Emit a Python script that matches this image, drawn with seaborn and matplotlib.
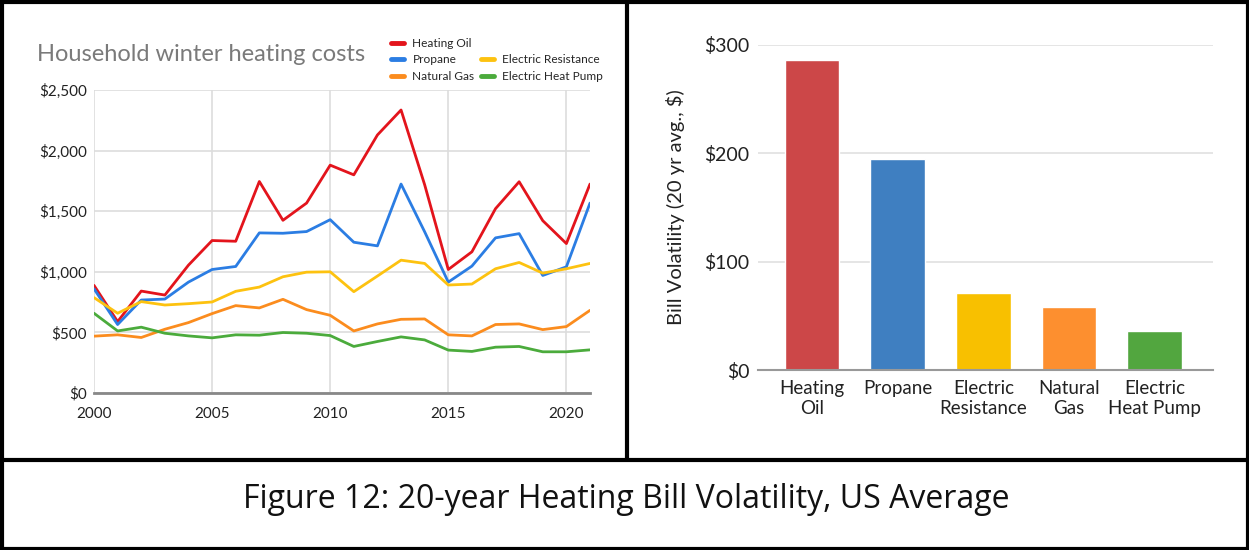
import numpy as np
import pandas as pd
import matplotlib.pyplot as plt
from matplotlib.lines import Line2D
import seaborn as sns


# Data
years = list(range(2000, 2022))
heating_oil = [888, 589, 841, 808, 1055, 1258, 1252, 1745, 1425, 1567, 1880, 1800,
               2129, 2335, 1718, 1019, 1165, 1521, 1743, 1422, 1233, 1724]
propane = [860, 565, 767, 775, 915, 1019, 1044, 1321, 1318, 1332, 1430, 1244,
           1214, 1724, 1330, 915, 1047, 1280, 1315, 970, 1041, 1567]
electric_resistance = [787, 658, 754, 726, 737, 751, 839, 874, 959, 997, 1000, 836,
                       965, 1096, 1069, 891, 899, 1025, 1077, 989, 1025, 1069]
natural_gas = [469, 480, 458, 526, 581, 655, 721, 702, 773, 688, 641, 512,
               570, 608, 611, 480, 471, 565, 570, 523, 548, 682]
heat_pump = [658, 512, 543, 493, 471, 455, 480, 477, 499, 493, 474, 384,
             425, 463, 438, 354, 343, 378, 384, 340, 340, 356]

fuels = ['Heating Oil', 'Propane', 'Natural Gas', 'Electric Resistance', 'Electric Heat Pump']
line_colors = ['#e3141c', '#2b7de3', '#fb8c1e', '#fdc210', '#4bab3c']

bar_labels = ['Heating\nOil', 'Propane', 'Electric\nResistance', 'Natural\nGas', 'Electric\nHeat Pump']
volatility = [286, 195, 71, 58, 36]
bar_colors = ['#cc4748', '#3f7fc1', '#f8c000', '#fd8f2f', '#52a63f']

series = {'Heating Oil': heating_oil, 'Propane': propane, 'Natural Gas': natural_gas,
          'Electric Resistance': electric_resistance, 'Electric Heat Pump': heat_pump}
df = pd.concat([pd.DataFrame({'year': years, 'cost': v, 'fuel': k}) for k, v in series.items()])
bars = pd.DataFrame({'fuel': bar_labels, 'vol': volatility})

sns.set_style('white')
plt.rcParams['font.family'] = ['Lato', 'DejaVu Sans']

W, H = 1249, 550
fig = plt.figure(figsize=(W / 100, H / 100), dpi=100)
fig.patch.set_facecolor('white')

# Left: household winter heating costs
ax1 = fig.add_axes([94 / W, 1 - 393 / H, (590 - 94) / W, (393 - 90) / H])
sns.lineplot(data=df, x='year', y='cost', hue='fuel', palette=dict(zip(fuels, line_colors)),
             linewidth=2, legend=False, ax=ax1)
ax1.set_xlim(2000, 2021)
ax1.set_ylim(0, 2500)
ax1.set_xticks([2000, 2005, 2010, 2015, 2020])
ax1.set_yticks([0, 500, 1000, 1500, 2000, 2500])
ax1.set_yticklabels(['$0', '$500', '$1,000', '$1,500', '$2,000', '$2,500'])
ax1.grid(True, color='#dddddd', linewidth=1.2)
for s in ['top', 'right', 'left']:
    ax1.spines[s].set_visible(False)
ax1.spines['bottom'].set_color('#888888')
ax1.spines['bottom'].set_linewidth(2)
ax1.tick_params(length=0, labelsize=11, colors='#222222', pad=5)
ax1.tick_params(axis='x', pad=10)
ax1.set_xlabel('')
ax1.set_ylabel('')

fig.text(37 / W, 1 - 61 / H, 'Household winter heating costs', fontsize=17, color='#7a7a7a')

handles = [Line2D([], [], color=c, linewidth=3.5) for c in line_colors[:3]]
handles += [Line2D([], [], color='none')]
handles += [Line2D([], [], color=c, linewidth=3.5) for c in line_colors[3:]]
labels = fuels[:3] + [''] + fuels[3:]
fig.legend(handles, labels, ncol=2, loc='upper left', bbox_to_anchor=(385 / W, 1 - 32 / H),
           frameon=False, fontsize=8.6, handlelength=1.1, handletextpad=0.7,
           columnspacing=0.5, labelspacing=0.45, borderpad=0)

# Right: bill volatility bars
ax2 = fig.add_axes([758 / W, 1 - 370 / H, (1213 - 758) / W, (370 - 45) / H])
sns.barplot(data=bars, x='fuel', y='vol', hue='fuel', palette=bar_colors, legend=False,
            width=0.64, saturation=1, ax=ax2)
ax2.set_xlim(-0.63, 4.68)
ax2.set_ylim(0, 300)
ax2.set_yticks([0, 100, 200, 300])
ax2.set_yticklabels(['$0', '$100', '$200', '$300'])
ax2.yaxis.grid(True, color='#e0e0e0', linewidth=1.2)
ax2.set_axisbelow(True)
for s in ['top', 'right', 'left']:
    ax2.spines[s].set_visible(False)
ax2.spines['bottom'].set_color('#999999')
ax2.spines['bottom'].set_linewidth(1.5)
ax2.tick_params(length=0, labelsize=14, colors='#222222', pad=6)
ax2.tick_params(axis='x', labelsize=13.5, pad=7)
for t in ax2.get_xticklabels():
    t.set_linespacing(1.25)
ax2.set_xlabel('')
ax2.set_ylabel('Bill Volatility (20 yr avg., $)', fontsize=14.5, color='#222222', labelpad=14)

# Frame and caption
lw = 3
fig.add_artist(Line2D([0, 1], [1 - 1.5 / H, 1 - 1.5 / H], color='black', linewidth=lw))
fig.add_artist(Line2D([0, 1], [1.5 / H, 1.5 / H], color='black', linewidth=lw))
fig.add_artist(Line2D([1.5 / W, 1.5 / W], [0, 1], color='black', linewidth=lw))
fig.add_artist(Line2D([1 - 1.5 / W, 1 - 1.5 / W], [0, 1], color='black', linewidth=lw))
fig.add_artist(Line2D([0, 1], [1 - 460 / H, 1 - 460 / H], color='black', linewidth=lw))
fig.add_artist(Line2D([627 / W, 627 / W], [1 - 460 / H, 1], color='black', linewidth=lw))

fig.text(626 / W, 1 - 500 / H, 'Figure 12: 20-year Heating Bill Volatility, US Average',
         fontsize=23, family=['Open Sans', 'DejaVu Sans'], color='#111111',
         ha='center', va='center')

fig.savefig('out.png', dpi=100, facecolor='white')
